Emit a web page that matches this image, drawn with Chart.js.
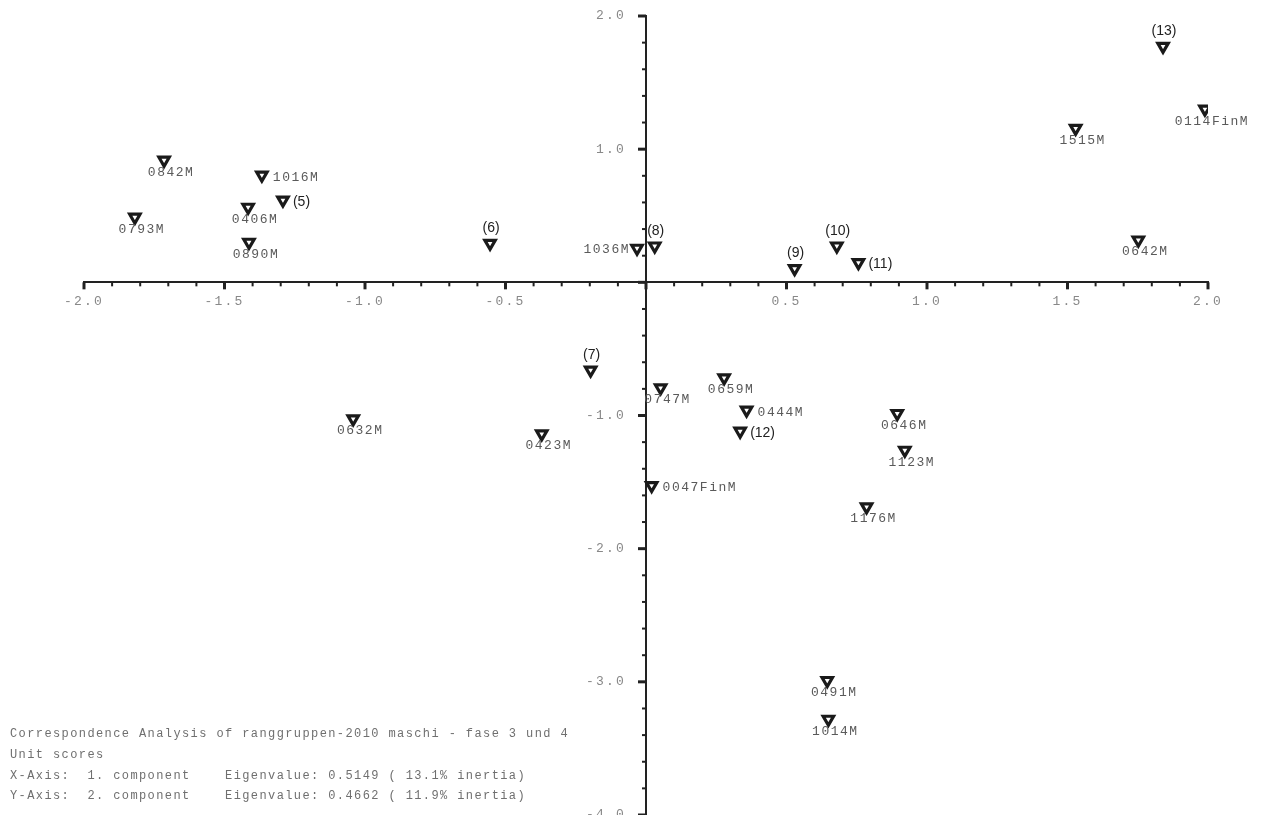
<!DOCTYPE html>
<html>
<head>
<meta charset="utf-8">
<script src="https://cdn.jsdelivr.net/npm/chart.js@4/dist/chart.umd.min.js"></script>
<style>
  body { margin: 0; background: #fff; }
  #chart { display: block; }
</style>
</head>
<body>
<canvas id="chart" width="1264" height="815"></canvas>
<script>
"use strict";
// unit scores
const pointNames = ["0842M", "1016M", "(5)", "0406M", "0793M", "0890M", "(6)", "1036M", "(8)", "(9)",
    "(10)", "(11)", "(13)", "0114FinM", "1515M", "0642M", "(7)", "0747M", "0659M", "0444M",
    "(12)", "0632M", "0423M", "0047FinM", "0646M", "1123M", "1176M", "0491M", "1014M"];
const xScores = [-1.715, -1.367, -1.292, -1.416, -1.819, -1.413, -0.555, -0.032, 0.031, 0.529,
    0.679, 0.756, 1.840, 1.989, 1.529, 1.752, -0.197, 0.052, 0.278, 0.358,
    0.335, -1.042, -0.371, 0.020, 0.894, 0.921, 0.785, 0.645, 0.649];
const yScores = [0.917, 0.805, 0.617, 0.564, 0.489, 0.301, 0.293, 0.256, 0.273, 0.103,
    0.273, 0.148, 1.772, 1.301, 1.156, 0.318, -0.659, -0.792, -0.717, -0.960,
    -1.118, -1.025, -1.138, -1.526, -0.985, -1.261, -1.686, -2.990, -3.281];
// where each name sits next to its marker
const labelSide = ["below", "right", "right", "below", "below", "below", "above", "left", "above", "above",
    "above", "right", "above", "below", "below", "below", "above", "below", "below", "right",
    "right", "below", "below", "right", "below", "below", "below", "below", "below"];

const xTickLabels = ["-2.0", "-1.5", "-1.0", "-0.5", "0.5", "1.0", "1.5", "2.0"];
const yTickLabels = ["2.0", "1.0", "-1.0", "-2.0", "-3.0", "-4.0"];

const notes = [
    "Correspondence Analysis of ranggruppen-2010 maschi - fase 3 und 4",
    "Unit scores",
    "X-Axis:  1. component    Eigenvalue: 0.5149 ( 13.1% inertia)",
    "Y-Axis:  2. component    Eigenvalue: 0.4662 ( 11.9% inertia)"
];

const monoFont = "12px 'Liberation Mono', 'DejaVu Sans Mono', monospace";
const labelFont = "13px 'Liberation Mono', 'DejaVu Sans Mono', monospace";
const sansFont = "14px 'Liberation Sans', Arial, sans-serif";

function tickLabelFor(value, labels) {
    const hit = labels.find(l => Math.abs(parseFloat(l) - value) < 1e-6);
    return hit ?? "";
}

const tickMarks = {
    id: "tickMarks",
    beforeDraw(chart) {
        chart.ctx.letterSpacing = "2.2px";
    },
    afterDraw(chart) {
        const ctx = chart.ctx;
        const xs = chart.scales.x;
        const ys = chart.scales.y;
        const x0 = xs.getPixelForValue(0);
        const y0 = ys.getPixelForValue(0);
        ctx.save();
        ctx.strokeStyle = "#222";
        xs.ticks.forEach(t => {
            const major = Math.abs(t.value * 2 - Math.round(t.value * 2)) < 1e-6;
            const px = xs.getPixelForValue(t.value);
            ctx.lineWidth = major ? 3 : 2;
            ctx.beginPath();
            ctx.moveTo(px, y0);
            ctx.lineTo(px, y0 + (major ? 7 : 4));
            ctx.stroke();
        });
        ys.ticks.forEach(t => {
            const major = Math.abs(t.value - Math.round(t.value)) < 1e-6;
            const py = ys.getPixelForValue(t.value);
            ctx.lineWidth = major ? 3 : 2;
            ctx.beginPath();
            ctx.moveTo(x0, py);
            ctx.lineTo(x0 - (major ? 8 : 4), py);
            ctx.stroke();
        });

        ctx.font = monoFont;
        ctx.letterSpacing = "1.4px";
        ctx.fillStyle = "#6f6f6f";
        ctx.textAlign = "left";
        ctx.textBaseline = "middle";
        notes.forEach((line, i) => {
            ctx.fillText(line, 10, 734 + i * 20.7);
        });
        ctx.restore();
    }
};

const pointLabels = {
    id: "pointLabels",
    afterDatasetsDraw(chart) {
        const ctx = chart.ctx;
        const meta = chart.getDatasetMeta(0);
        ctx.save();
        ctx.textBaseline = "middle";
        meta.data.forEach((pt, i) => {
            const name = pointNames[i];
            const isGroup = name.startsWith("(");
            if(isGroup) {
                ctx.font = sansFont;
                ctx.letterSpacing = "0px";
                ctx.fillStyle = "#222";
            } else {
                ctx.font = labelFont;
                ctx.letterSpacing = "1.5px";
                ctx.fillStyle = "#5a5a5a";
            }
            const side = labelSide[i];
            if(side === "below") {
                ctx.textAlign = "center";
                ctx.fillText(name, pt.x + 7, pt.y + 12);
            } else if(side === "above") {
                ctx.textAlign = "center";
                ctx.fillText(name, pt.x + 1, pt.y - 15);
            } else if(side === "right") {
                ctx.textAlign = "left";
                ctx.fillText(name, pt.x + (isGroup ? 10 : 11), pt.y + 2);
            } else {
                ctx.textAlign = "right";
                ctx.fillText(name, pt.x - 7, pt.y + 1);
            }
        });
        ctx.restore();
    }
};

const points = xScores.map((x, i) => ({x: x, y: yScores[i]}));

new Chart(document.getElementById("chart"), {
    type: "scatter",
    data: {
        datasets: [{
            data: points,
            pointStyle: "triangle",
            rotation: 180,
            pointRadius: 6,
            pointHoverRadius: 6,
            borderWidth: 3.2,
            borderColor: "#1a1a1a",
            backgroundColor: "#fff"
        }]
    },
    options: {
        responsive: false,
        animation: false,
        events: [],
        layout: { autoPadding: false, padding: { left: 84, right: 56, top: 16, bottom: 0 } },
        plugins: {
            legend: { display: false },
            tooltip: { enabled: false }
        },
        scales: {
            x: {
                type: "linear",
                position: { y: 0 },
                min: -2,
                max: 2,
                afterFit: s => { s.height = 0; s.paddingLeft = 0; s.paddingRight = 0; },
                grid: { drawOnChartArea: false, drawTicks: false },
                border: { color: "#222", width: 2 },
                ticks: {
                    stepSize: 0.1,
                    autoSkip: false,
                    maxRotation: 0,
                    padding: 11,
                    color: "#888",
                    font: { family: "'Liberation Mono', monospace", size: 13 },
                    callback: v => tickLabelFor(v, xTickLabels)
                }
            },
            y: {
                type: "linear",
                position: "center",
                min: -4,
                max: 2,
                afterFit: s => { s.width = 0; s.paddingTop = 0; s.paddingBottom = 0; },
                grid: { drawOnChartArea: false, drawTicks: false },
                border: { color: "#222", width: 2 },
                ticks: {
                    stepSize: 0.2,
                    autoSkip: false,
                    padding: 20,
                    color: "#888",
                    font: { family: "'Liberation Mono', monospace", size: 13 },
                    callback: v => tickLabelFor(v, yTickLabels)
                }
            }
        }
    },
    plugins: [tickMarks, pointLabels]
});
</script>
</body>
</html>
